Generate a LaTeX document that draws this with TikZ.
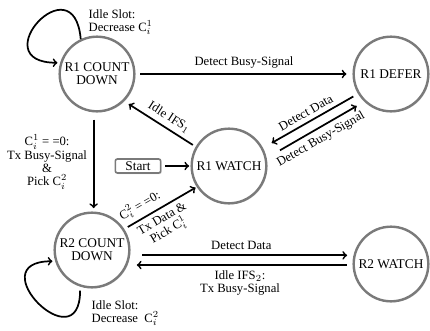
\documentclass[tikz,border=0pt]{standalone}
\usepackage{fontspec}
\setmainfont{Liberation Serif}
\usetikzlibrary{shadows}

\begin{document}
\begin{tikzpicture}[x=0.75pt, y=0.75pt,
    state/.style={circle, draw=black!52, line width=1.8pt, fill=white, minimum size=56pt, inner sep=0pt, align=center,
        font=\fontsize{10}{10}\selectfont, drop shadow={opacity=0.35, shadow xshift=0.8pt, shadow yshift=-0.8pt}},
    startbox/.style={rectangle, draw=black!52, line width=1.2pt, rounded corners=1.5pt, fill=white, minimum width=34pt,
        minimum height=10.5pt, inner sep=1pt, font=\fontsize{10}{10}\selectfont, drop shadow={opacity=0.35, shadow xshift=0.8pt, shadow yshift=-0.8pt}},
    trans/.style={line width=1.3pt},
    lbl/.style={font=\fontsize{9.5}{10}\selectfont, align=center}]
    \useasboundingbox (0,0) rectangle (430,330);

    % States
    \node[state] (cd1) at (97,256) {R1 COUNT\\DOWN};
    \node[state] (defer) at (391,256) {R1 DEFER};
    \node[state] (watch1) at (229,164) {R1 WATCH};
    \node[state] (cd2) at (92,80) {R2 COUNT\\DOWN};
    \node[state] (watch2) at (391,66) {R2 WATCH};

    % Start
    \node[startbox] (start) at (138,164) {Start};

    % Loop labels
    \node[lbl, align=left, anchor=west] (slot1) at (84,308) {Idle Slot:\\Decrease C$_i^1$};
    \node[lbl, align=left, anchor=west] (slot2) at (87,17) {Idle Slot:\\Decrease \ C$_i^2$};

    % Self loops
    \draw[trans, ->, shorten >=2pt] (cd1.115) .. controls +(95:78) and +(180:78) .. (cd1.163);
    \draw[trans, ->, shorten <=3pt, shorten >=2pt] (cd2.252) .. controls +(270:77) and +(180:77) .. (cd2.197);

    % Transitions
    \draw[trans, ->, shorten <=3.5pt, shorten >=4.5pt] (cd1) -- (defer)
        node[lbl, midway, above] {Detect Busy-Signal};
    \draw[trans, <-, shorten <=7.5pt, shorten >=4pt] (watch1.28) -- (defer.211)
        node[lbl, midway, sloped, above] {Detect Data};
    \draw[trans, ->, shorten <=11.5pt, shorten >=6.5pt] (watch1.12) -- (defer.226)
        node[lbl, midway, sloped, below] {Detect Busy-Signal};
    \draw[trans, <-, shorten <=4pt, shorten >=2.5pt] (cd1.-45) -- (watch1.150)
        node[lbl, pos=0.55, sloped, above] {Idle IFS$_1$};
    \draw[trans, ->, shorten <=5.5pt, shorten >=2.5pt] (cd1.265) -- (cd1.265 |- cd2.north)
        node[lbl, midway, left, xshift=-1pt] {C$_i^1$ = =0:\\Tx Busy-Signal\\\&\\Pick C$_i^2$};
    \draw[trans, ->, shorten <=3pt, shorten >=1pt] (start) -- (watch1);
    \draw[trans, ->, shorten <=3pt, shorten >=1pt] (cd2.33) -- (watch1.213)
        node[lbl, pos=0.3, sloped, above] {C$_i^2$ = =0:}
        node[lbl, pos=0.45, sloped, below] {Tx Data \&\\Pick C$_i^1$};
    \draw[trans, ->, shorten <=9pt, shorten >=4pt] (cd2.-8) -- (cd2.-8 -| watch2.west)
        node[lbl, midway, above] {Detect Data};
    \draw[trans, <-, shorten <=7pt, shorten >=4pt] (cd2.-23) -- (cd2.-23 -| watch2.west)
        node[lbl, midway, below] {Idle IFS$_2$:\\Tx Busy-Signal};

\end{tikzpicture}
\end{document}
